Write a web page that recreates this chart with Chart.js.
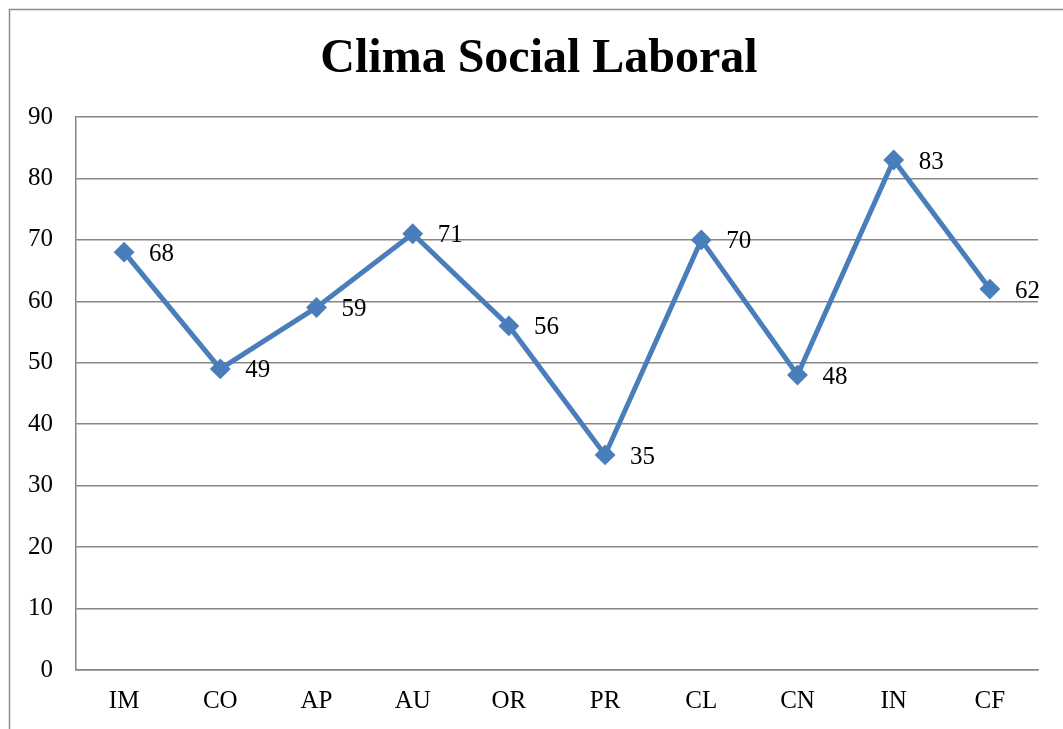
<!DOCTYPE html>
<html>
<head>
<meta charset="utf-8">
<script src="https://cdn.jsdelivr.net/npm/chart.js@4/dist/chart.umd.min.js"></script>
<style>
  html, body { margin: 0; padding: 0; background: #fff; }
  #wrap { width: 1063px; height: 729px; position: relative; }
</style>
</head>
<body>
<div id="wrap"><canvas id="chart" width="1063" height="729"></canvas></div>
<script>
// data
const categories = ['IM', 'CO', 'AP', 'AU', 'OR', 'PR', 'CL', 'CN', 'IN', 'CF'];
const scores = [68, 49, 59, 71, 56, 35, 70, 48, 83, 62];
const yMin = 0, yMax = 90, yStep = 10;
const chartTitle = 'Clima Social Laboral';

const serif = "'Liberation Serif', 'Times New Roman', serif";
const lineBlue = '#4A7EBB';
const gridGray = '#868686';

// white background, outer frame and the title
const framePlugin = {
  id: 'frame',
  beforeDraw(chart) {
    const ctx = chart.ctx;
    ctx.save();
    ctx.fillStyle = '#fff';
    ctx.fillRect(0, 0, chart.width, chart.height);
    ctx.strokeStyle = '#8c8c8c';
    ctx.lineWidth = 1.5;
    ctx.strokeRect(9.5, 9.5, chart.width + 20, chart.height + 20);
    ctx.fillStyle = '#000';
    ctx.font = 'bold 48px ' + serif;
    ctx.textAlign = 'center';
    ctx.textBaseline = 'middle';
    ctx.fillText(chartTitle, 539, 60);
    ctx.restore();
  }
};

// value labels to the right of each point
const valueLabels = {
  id: 'valueLabels',
  afterDatasetsDraw(chart) {
    const ctx = chart.ctx;
    const meta = chart.getDatasetMeta(0);
    ctx.save();
    ctx.font = '25px ' + serif;
    ctx.fillStyle = '#000';
    ctx.textAlign = 'left';
    ctx.textBaseline = 'middle';
    meta.data.forEach((pt, i) => {
      ctx.fillText(String(scores[i]), pt.x + 25, pt.y + 2);
    });
    ctx.restore();
  }
};

new Chart(document.getElementById('chart'), {
  type: 'line',
  data: {
    labels: categories,
    datasets: [{
      data: scores,
      borderColor: lineBlue,
      borderWidth: 5,
      backgroundColor: lineBlue,
      pointStyle: 'rectRot',
      pointRadius: 9,
      pointBorderWidth: 2,
      pointBorderColor: lineBlue,
      pointBackgroundColor: lineBlue,
      tension: 0,
      fill: false
    }]
  },
  options: {
    responsive: false,
    animation: false,
    layout: { padding: { left: 12, right: 25, top: 117, bottom: 0 } },
    plugins: {
      legend: { display: false },
      tooltip: { enabled: false },
      title: { display: false }
    },
    scales: {
      x: {
        offset: true,
        grid: { display: true, drawOnChartArea: false, drawTicks: false },
        border: { display: true, color: gridGray, width: 1.5 },
        ticks: { color: '#000', font: { family: serif, size: 25 }, padding: 16 },
        afterFit(s) { s.height = 59; }
      },
      y: {
        min: yMin,
        max: yMax,
        grid: { color: gridGray, lineWidth: 1.5, drawTicks: false },
        border: { display: true, color: gridGray, width: 1.5 },
        ticks: { stepSize: yStep, color: '#000', font: { family: serif, size: 25 }, padding: 23 },
        afterFit(s) { s.width = 64; }
      }
    }
  },
  plugins: [framePlugin, valueLabels]
});
</script>
</body>
</html>
